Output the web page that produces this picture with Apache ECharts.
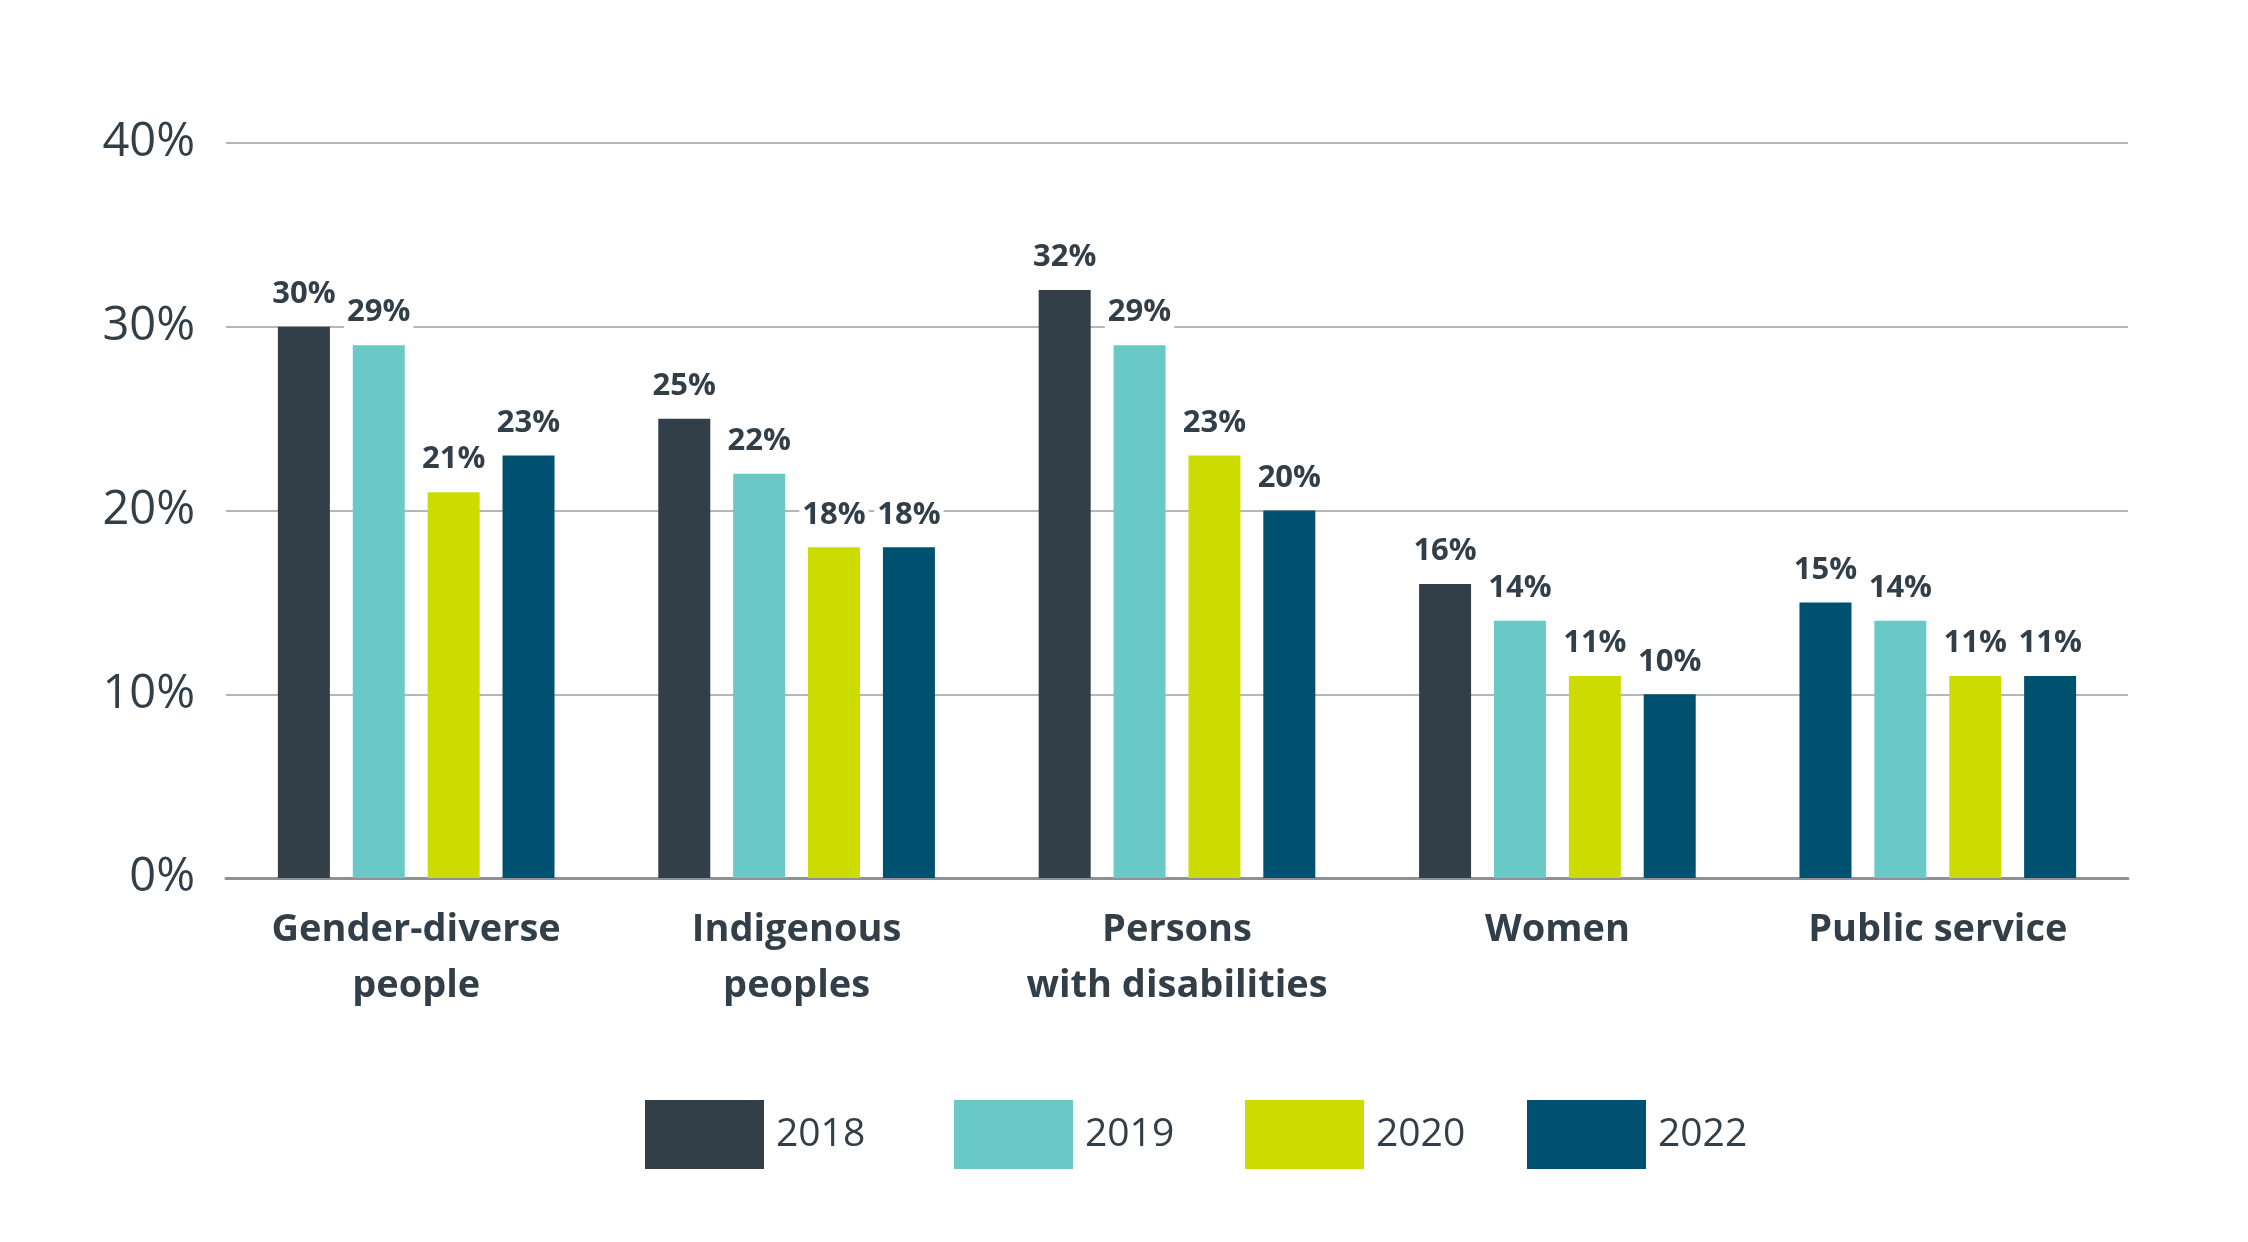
<!DOCTYPE html>
<html>
<head>
<meta charset="utf-8">
<script src="https://cdn.jsdelivr.net/npm/echarts@6/dist/echarts.min.js"></script>
<style>html,body{margin:0;padding:0;background:#fff}#c{width:2248px;height:1242px}</style>
</head>
<body>
<div id="c"></div>
<script>
const categories = ['Gender-diverse\npeople', 'Indigenous\npeoples', 'Persons\nwith disabilities', 'Women', 'Public service'];
const years = ['2018', '2019', '2020', '2022'];
const v2018 = [30, 25, 32, 16, 15];
const v2019 = [29, 22, 29, 14, 14];
const v2020 = [21, 18, 23, 11, 11];
const v2022 = [23, 18, 20, 10, 11];
const yTicks = [0, 10, 20, 30, 40];
const colors = ['#333f48', '#68c9c7', '#cddc00', '#005070'];
const textColor = '#333f48';
const fontFamily = '"Open Sans", Lato, sans-serif';
const legendLeft = [640, 949, 1240, 1522];

const seriesValues = [v2018, v2019, v2020, v2022];
const chart = echarts.init(document.getElementById('c'));
chart.setOption({
  animation: false,
  backgroundColor: '#fff',
  color: colors,
  grid: { left: 226, right: 120, top: 143, bottom: 364 },
  legend: years.map((y, i) => ({
    top: 1095,
    left: legendLeft[i],
    itemWidth: 119,
    itemHeight: 69,
    icon: 'rect',
    textStyle: { color: textColor, fontSize: 39, fontFamily: fontFamily, padding: [0, 0, 0, 7] },
    data: [y]
  })),
  xAxis: {
    type: 'category',
    data: categories,
    axisTick: { show: false },
    axisLine: { lineStyle: { color: '#8f9294', width: 3 } },
    axisLabel: {
      color: textColor, fontSize: 38, fontWeight: 'bold', fontFamily: fontFamily,
      lineHeight: 56, margin: 24, interval: 0
    }
  },
  yAxis: {
    type: 'value',
    min: yTicks[0],
    max: yTicks[yTicks.length - 1],
    interval: 10,
    axisLine: { show: false },
    axisTick: { show: false },
    splitLine: { lineStyle: { color: '#b4b7b9', width: 2 } },
    axisLabel: {
      color: textColor, fontSize: 47, fontFamily: fontFamily, margin: 31,
      formatter: v => v + '%'
    }
  },
  series: years.map((y, i) => ({
    name: y,
    type: 'bar',
    barWidth: 52,
    barGap: '44%',
    data: seriesValues[i].map((v, j) => (i === 0 && j === 4) ? { value: v, itemStyle: { color: colors[3] } } : v),
    label: {
      show: true,
      position: 'top',
      distance: 17,
      color: textColor,
      fontSize: 31,
      fontWeight: 'bold',
      fontFamily: fontFamily,
      backgroundColor: '#fff',
      padding: [2, 3, 0, 3],
      formatter: p => p.value + '%'
    }
  }))
});
</script>
</body>
</html>
